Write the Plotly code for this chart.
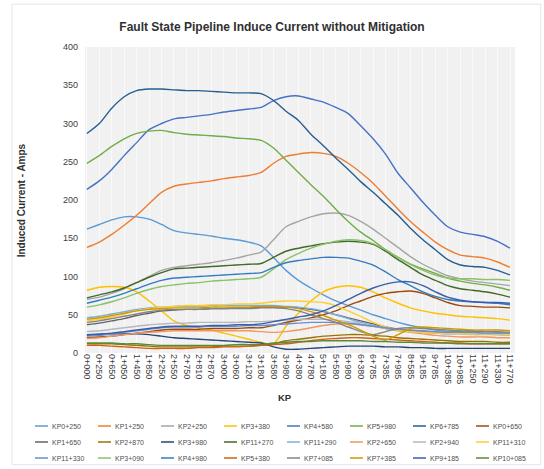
import plotly.graph_objects as go

kp = ["0+000", "0+250", "0+650", "1+050", "1+450", "1+850", "2+250", "2+550", "2+750", "2+810",
      "2+870", "3+000", "3+060", "3+120", "3+180", "3+580", "3+980", "4+380", "4+780", "5+180",
      "5+580", "5+980", "6+380", "6+785", "7+385", "7+985", "8+585", "9+185", "9+785", "10+385",
      "10+985", "11+250", "11+290", "11+330", "11+770"]

kp0_250 = [162, 168, 174, 178, 178, 175, 168, 160, 157, 155, 153, 150, 148, 145, 140, 125, 108, 95, 85, 76,
           68, 62, 56, 50, 45, 40, 36, 33, 30, 28, 28, 28, 28, 27, 26]
kp1_250 = [138, 145, 155, 167, 180, 195, 210, 218, 221, 223, 225, 228, 230, 232, 236, 248, 257, 260, 262, 261,
           257, 248, 236, 222, 205, 188, 172, 158, 145, 135, 128, 126, 124, 119, 112]
kp2_250 = [70, 73, 78, 84, 92, 100, 108, 112, 114, 116, 118, 121, 124, 128, 132, 148, 165, 172, 178, 182,
           183, 180, 172, 162, 150, 138, 126, 116, 108, 101, 97, 94, 92, 90, 88]
kp3_380 = [82, 86, 87, 86, 80, 68, 55, 42, 36, 33, 30, 26, 22, 18, 14, 12, 35, 52, 68, 80,
           86, 88, 86, 80, 72, 65, 59, 55, 52, 50, 48, 47, 46, 45, 43]
kp4_580 = [214, 225, 240, 258, 275, 292, 300, 306, 308, 310, 312, 315, 317, 319, 321, 330, 335, 336, 332, 328,
           321, 313, 297, 280, 260, 235, 216, 197, 180, 165, 158, 155, 152, 146, 137]
kp5_980 = [248, 258, 270, 280, 287, 290, 291, 288, 286, 285, 284, 283, 281, 280, 278, 268, 252, 236, 220, 205,
           188, 172, 158, 147, 135, 125, 116, 110, 104, 98, 94, 91, 89, 86, 82]
kp6_785 = [287, 300, 320, 335, 343, 345, 345, 344, 343, 343, 342, 341, 340, 340, 339, 330, 316, 304, 286, 271,
           255, 240, 224, 210, 195, 180, 163, 148, 135, 122, 115, 113, 112, 108, 102]
kp0_650 = [20, 21, 22, 24, 26, 28, 30, 31, 31, 31, 32, 32, 32, 33, 33, 36, 40, 43, 46, 50,
           55, 62, 68, 74, 78, 80, 81, 78, 72, 66, 62, 61, 60, 60, 59]
kp1_650 = [37, 39, 42, 45, 49, 52, 55, 56, 57, 57, 58, 58, 59, 59, 60, 60, 60, 59, 57, 54,
           50, 46, 42, 38, 34, 31, 29, 28, 27, 26, 26, 25, 25, 25, 24]
kp2_870 = [12, 12, 12, 11, 10, 9, 8, 8, 8, 8, 8, 9, 9, 9, 10, 12, 16, 18, 20, 22,
           23, 24, 24, 23, 22, 20, 19, 18, 17, 16, 15, 15, 15, 14, 14]
kp3_980 = [23, 24, 25, 25, 25, 24, 22, 20, 19, 18, 17, 16, 15, 14, 13, 8, 5, 5, 6, 7,
           8, 9, 9, 9, 8, 8, 7, 7, 6, 6, 6, 6, 6, 6, 6]
kp11_270 = [72, 76, 80, 85, 92, 99, 105, 110, 111, 112, 113, 114, 115, 116, 117, 125, 133, 137, 140, 143,
            145, 146, 145, 142, 133, 122, 112, 102, 95, 88, 84, 82, 80, 77, 73]
kp11_290 = [46, 48, 51, 54, 57, 59, 60, 61, 61, 61, 62, 62, 62, 62, 62, 62, 61, 60, 58, 55,
            50, 45, 40, 36, 32, 30, 28, 27, 26, 25, 25, 25, 25, 24, 24]
kp2_650 = [19, 20, 22, 24, 26, 27, 28, 29, 29, 29, 29, 29, 29, 29, 28, 27, 28, 30, 33, 36,
           38, 38, 37, 35, 32, 29, 27, 25, 23, 22, 21, 21, 21, 20, 20]
kp2_940 = [28, 29, 31, 33, 35, 37, 38, 39, 39, 40, 40, 40, 40, 41, 41, 42, 43, 44, 44, 44,
           43, 41, 38, 35, 32, 30, 28, 27, 26, 25, 25, 24, 24, 24, 23]
kp11_310 = [42, 44, 47, 51, 55, 58, 60, 61, 62, 62, 63, 63, 64, 64, 65, 67, 68, 68, 67, 66,
            62, 55, 48, 40, 34, 30, 28, 27, 26, 26, 25, 25, 25, 25, 24]
kp11_330 = [22, 23, 25, 27, 29, 31, 33, 34, 34, 34, 35, 35, 35, 36, 36, 37, 38, 39, 40, 40,
            40, 39, 37, 35, 33, 31, 30, 29, 28, 27, 27, 27, 26, 26, 26]
kp3_090 = [60, 63, 67, 72, 78, 83, 87, 89, 91, 92, 94, 95, 96, 97, 99, 110, 122, 130, 137, 142,
           146, 148, 147, 143, 135, 125, 116, 108, 102, 98, 97, 97, 96, 96, 95]
kp4_980 = [65, 69, 73, 78, 84, 90, 95, 98, 99, 100, 101, 102, 103, 104, 105, 112, 118, 121, 123, 125,
           125, 124, 120, 115, 106, 96, 88, 80, 74, 70, 68, 67, 66, 65, 63]
kp5_380 = [10, 10, 9, 8, 7, 6, 6, 6, 6, 7, 7, 8, 8, 9, 10, 11, 12, 14, 16, 18,
           19, 20, 20, 19, 18, 17, 16, 15, 14, 13, 13, 12, 12, 12, 12]
kp7_085 = [40, 42, 45, 48, 51, 54, 56, 57, 57, 57, 58, 58, 58, 58, 59, 59, 58, 55, 50, 45,
           40, 34, 28, 24, 28, 32, 33, 32, 31, 30, 29, 29, 28, 28, 27]
kp7_385 = [44, 46, 49, 52, 55, 57, 58, 59, 59, 59, 60, 60, 60, 60, 61, 61, 60, 58, 54, 49,
           43, 37, 30, 22, 17, 24, 32, 34, 33, 32, 31, 30, 30, 30, 29]
kp9_185 = [24, 25, 26, 28, 30, 32, 34, 35, 35, 35, 36, 36, 37, 37, 38, 41, 44, 47, 50, 55,
           62, 70, 78, 85, 90, 93, 93, 88, 80, 73, 69, 67, 66, 66, 65]
kp10_085 = [13, 13, 13, 12, 12, 11, 10, 10, 10, 10, 10, 10, 11, 11, 11, 13, 14, 15, 15, 16,
            16, 16, 16, 15, 15, 14, 14, 13, 13, 13, 12, 12, 12, 12, 12]

series_names = ["KP0+250", "KP1+250", "KP2+250", "KP3+380", "KP4+580", "KP5+980", "KP6+785", "KP0+650",
                "KP1+650", "KP2+870", "KP3+980", "KP11+270", "KP11+290", "KP2+650", "KP2+940", "KP11+310",
                "KP11+330", "KP3+090", "KP4+980", "KP5+380", "KP7+085", "KP7+385", "KP9+185", "KP10+085"]
series_values = [kp0_250, kp1_250, kp2_250, kp3_380, kp4_580, kp5_980, kp6_785, kp0_650,
                 kp1_650, kp2_870, kp3_980, kp11_270, kp11_290, kp2_650, kp2_940, kp11_310,
                 kp11_330, kp3_090, kp4_980, kp5_380, kp7_085, kp7_385, kp9_185, kp10_085]
colors = ["#5B9BD5", "#ED7D31", "#A5A5A5", "#FFC000", "#4472C4", "#70AD47", "#255E91", "#9E480E",
          "#636363", "#997300", "#264478", "#43682B", "#7CAFDD", "#F1975A", "#B7B7B7", "#FFCD33",
          "#698ED0", "#8CC168", "#327DC2", "#D26012", "#848484", "#CC9A00", "#3A5DAE", "#5A8A39"]

fig = go.Figure()
for name, vals, col in zip(series_names, series_values, colors):
    fig.add_trace(go.Scatter(x=kp, y=vals, name=name, mode="lines",
                             line=dict(color=col, width=1.4, shape="spline", smoothing=0.8)))

# geometry of plot area in pixels (for the hand-laid legend)
W, H = 544, 469
ML, MR, MT, MB = 85, 29, 47, 116
PW, PH = W - ML - MR, H - MT - MB


def px_to_paper(xp, yp):
    return (xp - ML) / PW, (H - MB - yp) / PH


font_family = "Liberation Sans, Arial, sans-serif"
shapes = [dict(type="rect", xref="paper", yref="paper", x0=-0.17, x1=1.06, y0=-0.365, y1=1.14,
               line=dict(color="#e4e4e4", width=1), fillcolor="rgba(0,0,0,0)", layer="below")]
annotations = [
    dict(text="<b>Induced Current - Amps</b>", xref="paper", yref="paper",
         x=-0.148, y=0.5, xanchor="center", yanchor="middle", textangle=-90,
         showarrow=False, font=dict(size=10, color="#303030")),
    dict(text="<b>KP</b>", xref="paper", yref="paper", x=0.465, y=-0.145,
         xanchor="center", yanchor="middle", showarrow=False,
         font=dict(size=9.5, color="#303030")),
]

# legend: 8 columns x 3 rows
for i, (name, col) in enumerate(zip(series_names, colors)):
    c, r = i % 8, i // 8
    lx = 35 + c * 63
    ly = 426 + r * 16
    x0, y0 = px_to_paper(lx, ly)
    x1, _ = px_to_paper(lx + 13, ly)
    xt, _ = px_to_paper(lx + 15, ly)
    shapes.append(dict(type="line", xref="paper", yref="paper", x0=x0, x1=x1, y0=y0, y1=y0,
                       line=dict(color=col, width=1.5)))
    annotations.append(dict(text=name, xref="paper", yref="paper", x=xt, y=y0,
                            xanchor="left", yanchor="middle", showarrow=False,
                            font=dict(size=7, color="#505050")))

fig.update_layout(
    width=W, height=H,
    margin=dict(l=ML, r=MR, t=MT, b=MB, autoexpand=False),
    paper_bgcolor="white",
    plot_bgcolor="#f1f1f1",
    font=dict(family=font_family, color="#404040", size=8),
    title=dict(text="<b>Fault State Pipeline Induce Current without Mitigation</b>",
               x=0.5, xanchor="center", y=0.942, yanchor="middle",
               font=dict(size=12, color="#303030", family=font_family)),
    showlegend=False,
    xaxis=dict(type="category", range=[-0.15, 34.4], tickangle=90,
               tickfont=dict(size=9, color="#404040"), showgrid=True, gridcolor="#fafafa",
               gridwidth=1, showline=False, ticks="", zeroline=False),
    yaxis=dict(range=[0, 400], dtick=50, tickfont=dict(size=9, color="#404040"),
               showgrid=False, zeroline=False, showline=False, ticks="", ticklen=0,
               ticklabelstandoff=6),
    annotations=annotations,
    shapes=shapes,
)

fig.write_html("out.html", config={"displayModeBar": False},
               post_script="document.body.style.margin='0px';")
